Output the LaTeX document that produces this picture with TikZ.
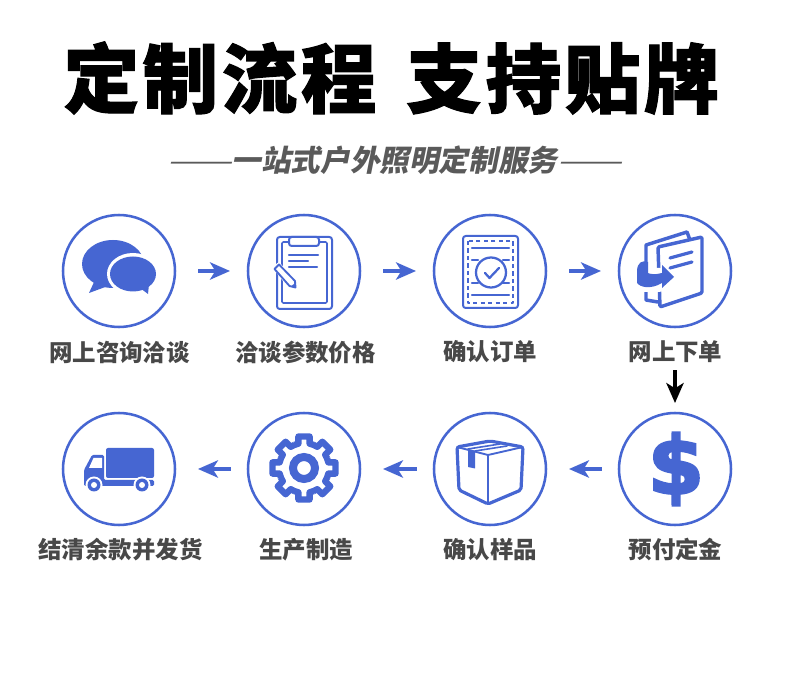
\documentclass[tikz,border=0pt]{standalone}
\usepackage{fontspec}
\usepackage{graphicx}
\usetikzlibrary{arrows.meta,calc}
\newfontfamily\cjk{Noto Sans CJK SC}
\newfontfamily\cjktitle[BoldFeatures={FakeBold=1.5,LetterSpace=5}]{Noto Sans CJK SC}
\newfontfamily\cjksub[FakeSlant=0.2,BoldFeatures={FakeSlant=0.2}]{Noto Sans CJK SC}
\newfontfamily\dollarfont[BoldFeatures={FakeBold=3.5}]{DejaVu Sans}
\definecolor{iconblue}{HTML}{4666D2}
\definecolor{labelgray}{HTML}{484848}
\definecolor{subgray}{HTML}{5A5A5A}
\tikzset{
  ring/.style={circle,draw=iconblue,line width=1.9pt,minimum size=84pt,inner sep=0pt,outer sep=0pt},
  steplabel/.style={font=\cjk\bfseries\fontsize{17.6}{20}\selectfont,text=labelgray,inner sep=0pt,outer sep=0pt},
  flow/.style={draw=iconblue,line width=2.4pt,-{Stealth[length=15pt,width=13pt,inset=4pt]}},
  flowr/.style={flow,shorten <=17.25pt,shorten >=13.5pt},
  flowl/.style={flow,shorten <=13pt,shorten >=17.25pt},
  downflow/.style={draw=black,line width=2.4pt,-{Stealth[length=15pt,width=13pt,inset=4pt]}},
  ink/.style={draw=iconblue,line width=1.7pt,line join=round,line cap=round},
}
\begin{document}
\begin{tikzpicture}[x=0.75pt,y=-0.75pt]
\useasboundingbox[fill=white] (0,0) rectangle (790,680);
\node[inner sep=0pt,font=\cjktitle\bfseries\fontsize{56.5}{60}\selectfont,text=black] (title) at (391.5,78) {定制流程\hspace{7pt} 支持贴牌};
\node[inner sep=0pt,font=\cjksub\fontsize{22.2}{26}\selectfont,text=subgray] (subtitle) at (394.5,160) {\scalebox{1.3}[1]{——}{\bfseries 一站式户外照明定制服务}\scalebox{1.3}[1]{——}};

% rings
\foreach \n/\x/\y in {c1/119/271,c2/304/271,c3/490/271,c4/675/271,c5/675/469,c6/490/469,c7/304/469,c8/119/469}
  \node[ring] (\n) at (\x,\y) {};
% labels
\node[steplabel] (l1) at (119.5,352) {网上咨询洽谈};
\node[steplabel] (l2) at (305.5,352) {洽谈参数价格};
\node[steplabel] (l3) at (490,352) {确认订单};
\node[steplabel] (l4) at (675.5,352) {网上下单};
\node[steplabel] (l5) at (675.5,550) {预付定金};
\node[steplabel] (l6) at (490,550) {确认样品};
\node[steplabel] (l7) at (306,550) {生产制造};
\node[steplabel] (l8) at (120.5,550) {结清余款并发货};
% connectors
\draw[flowr] (c1) -- (c2);
\draw[flowr] (c2) -- (c3);
\draw[flowr] (c3) -- (c4);
\draw[downflow,shorten <=5.5pt,shorten >=7.5pt] (l4.south -| c4) -- (c5);
\draw[flowl] (c5) -- (c6);
\draw[flowl] (c6) -- (c7);
\draw[flowl] (c7) -- (c8);

% icon 1: chat
\fill[iconblue] (113,264) ellipse [x radius=31,y radius=24];
\fill[iconblue] (95,280) -- (89,293) -- (108,286) -- cycle;
\fill[white] (133,274) ellipse [x radius=26,y radius=21];
\fill[iconblue] (133,274) ellipse [x radius=23,y radius=17.5];
\fill[iconblue] (140,288) -- (148,294) -- (149,284) -- cycle;

% icon 2: clipboard
\draw[ink,line width=1.5pt,rounded corners=2pt] (277,237) rectangle (332,309);
\draw[ink,line width=1.2pt,rounded corners=1pt] (282,242) rectangle (327,303);
\fill[white,draw=iconblue,line width=1.5pt,rounded corners=2pt] (289,237) rectangle (319,246);
\draw[ink] (289,255) -- (318,255) (289,261) -- (308,261) (289,267) -- (317,267);
\fill[white] (272,267) -- (279,262) -- (300,285) -- (298,292) -- (290,290) -- cycle;
\draw[ink,line width=1.4pt] (274.5,269) -- (279,264.5) -- (295,281) -- (295.5,287.5) -- (289.5,286) -- cycle;
\fill[iconblue] (295.5,287.5) -- (291,286.5) -- (295,283) -- cycle;

% icon 3: certificate
\draw[ink,line width=1.5pt,rounded corners=2pt] (463,236) rectangle (518,308);
\draw[ink,dash pattern=on 3.2pt off 2.4pt,line cap=butt] (468,241) rectangle (513,303);
\draw[ink] (472,248) -- (509,248) (472,295) -- (509,295);
\draw[ink] (472,260) -- (478,260) (503,260) -- (509,260) (472,283) -- (478,283) (503,283) -- (509,283);
\draw[ink] (491,272.5) circle [radius=15];
\draw[ink] (485,273) -- (489.5,278) -- (499,268);

% icon 4: documents
\draw[ink,line width=2.6pt,fill=white] (658,302) -- (646,300) -- (646,245) -- (687,232) -- (690,240);
\draw[ink,line width=2.6pt,fill=white,rounded corners=1pt] (658,247) -- (702,237) -- (702,293) -- (660,307) -- cycle;
\draw[ink,line width=2.4pt] (670,258) -- (692,252) (670,268) -- (692,262);
\fill[white] (634,268) -- (660,268) -- (680,277) -- (660,292) -- (640,292) -- cycle;
\fill[iconblue] (648,262) .. controls (641,260) and (638,263) .. (637,270) -- (637,283) .. controls (640,287) and (650,290) .. (662,283) -- (662,288) -- (674,277) -- (662,265) -- (662,273) .. controls (655,275) and (650,274) .. (648,273) -- cycle;

% icon 5: dollar
\node[inner sep=0pt,text=iconblue,font=\dollarfont\bfseries\fontsize{60}{60}\selectfont] (dollar) at (676,469) {\$};

% icon 6: box
\draw[ink,line width=2.4pt,rounded corners=1.5pt] (457,447) -- (490,441) -- (523,447) -- (521,490) -- (488,504) -- (459,490) -- cycle;
\draw[ink,line width=1.4pt] (457,447) -- (488,455) -- (523,447) (488,455) -- (488,504);
\draw[ink,line width=1.2pt] (468,449) -- (500,444) (475,451) -- (507,446);
\fill[iconblue] (468,449) -- (468,467) -- (475,468.5) -- (475,451) -- cycle;

% icon 7: gear
\draw[iconblue,line width=4.8pt,line join=round]
  \foreach \a in {0,45,...,315} {
    ($(304,468)+(\a-23:25)$) -- ($(304,468)+(\a-13:25)$) -- ($(304,468)+(\a-10:32)$) -- ($(304,468)+(\a+10:32)$) -- ($(304,468)+(\a+13:25)$) -- ($(304,468)+(\a+22:25)$)
  };
\draw[iconblue,line width=6pt] (304,468) circle [radius=11];

% icon 8: truck
\fill[iconblue,rounded corners=1.5pt] (106,448) rectangle (154,478);
\fill[iconblue,rounded corners=1pt] (84,486) -- (84,470) -- (92,455) -- (104,455) -- (104,480) -- (154,480) -- (154,486) -- cycle;
\fill[white] (89,468) -- (93.5,458) -- (102,458) -- (102,468) -- cycle;
\foreach \wx in {94,142} {
  \fill[white] (\wx,485) circle [radius=8.5];
  \fill[iconblue] (\wx,485) circle [radius=6.5];
  \fill[white] (\wx,485) circle [radius=3];
}
\end{tikzpicture}
\end{document}
